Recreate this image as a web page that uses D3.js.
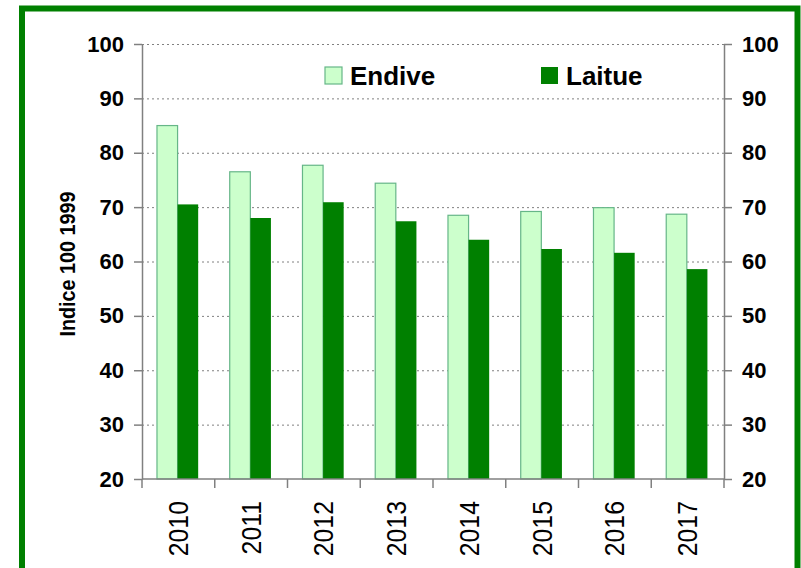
<!DOCTYPE html>
<html>
<head>
<meta charset="utf-8">
<script src="https://cdn.jsdelivr.net/npm/d3@7"></script>
<style>
  body { margin: 0; background: #fff; }
  svg { display: block; font-family: "Liberation Sans", Arial, sans-serif; }
</style>
</head>
<body>
<div id="chart"></div>
<script>
// Data
const years = ['2010', '2011', '2012', '2013', '2014', '2015', '2016', '2017'];
const endive = [85, 76.5, 77.7, 74.4, 68.5, 69.2, 69.9, 68.7];
const laitue = [70.5, 68, 70.9, 67.4, 64, 62.3, 61.6, 58.6];
const seriesNames = ['Endive', 'Laitue'];
const yTicks = [20, 30, 40, 50, 60, 70, 80, 90, 100];

const width = 801, height = 568;
const margin = { top: 44, right: 77, bottom: 89, left: 142 };
const innerW = width - margin.left - margin.right;
const innerH = height - margin.top - margin.bottom;

const svg = d3.select('#chart').append('svg')
  .attr('width', width)
  .attr('height', height);

// green frame
svg.append('rect')
  .attr('x', 22).attr('y', 8.5)
  .attr('width', 775.5).attr('height', 620)
  .attr('fill', 'none')
  .attr('stroke', '#008000')
  .attr('stroke-width', 6);

const g = svg.append('g').attr('transform', `translate(${margin.left},${margin.top})`);

const x = d3.scaleBand().domain(years).range([0, innerW]);
const y = d3.scaleLinear().domain([20, 100]).range([innerH, 0]);
const barW = 20.6;
const groupOffset = (x.bandwidth() - 2 * barW) / 2 - 0.8;

// dotted grid
g.append('g')
  .selectAll('line')
  .data(yTicks.filter(d => d > 20))
  .join('line')
  .attr('x1', 0).attr('x2', innerW)
  .attr('y1', d => y(d) + 0.5).attr('y2', d => y(d) + 0.5)
  .attr('stroke', '#808080')
  .attr('stroke-width', 1)
  .attr('stroke-dasharray', '2,3');

// bars
const groups = g.append('g')
  .selectAll('g')
  .data(years)
  .join('g')
  .attr('transform', d => `translate(${x(d) + groupOffset},0)`);

groups.append('rect')
  .attr('x', 0)
  .attr('width', barW)
  .attr('y', (d, i) => y(endive[i]))
  .attr('height', (d, i) => innerH - y(endive[i]))
  .attr('fill', '#ccffcc')
  .attr('stroke', '#66b688')
  .attr('stroke-width', 1.2);

groups.append('rect')
  .attr('x', barW)
  .attr('width', barW)
  .attr('y', (d, i) => y(laitue[i]))
  .attr('height', (d, i) => innerH - y(laitue[i]))
  .attr('fill', '#008000');

// axes
const axisColor = '#808080';
const styleAxis = sel => {
  sel.select('.domain').attr('stroke', axisColor).attr('stroke-width', 1.5);
  sel.selectAll('.tick line').attr('stroke', axisColor).attr('stroke-width', 1.5);
};

const left = g.append('g')
  .call(d3.axisLeft(y).tickValues(yTicks).tickSize(8).tickPadding(10).tickSizeOuter(0))
  .call(styleAxis);
left.selectAll('.tick text')
  .attr('font-size', 22).attr('font-weight', 'bold').attr('fill', '#000')
  .attr('font-family', '"Liberation Sans", Arial, sans-serif');

const right = g.append('g')
  .attr('transform', `translate(${innerW},0)`)
  .call(d3.axisRight(y).tickValues(yTicks).tickSize(8).tickPadding(10).tickSizeOuter(0))
  .call(styleAxis);
right.selectAll('.tick text')
  .attr('font-size', 22).attr('font-weight', 'bold').attr('fill', '#000')
  .attr('font-family', '"Liberation Sans", Arial, sans-serif');

// x axis: ticks at band edges, labels centred and rotated
const bottom = g.append('g').attr('transform', `translate(0,${innerH})`);
bottom.append('line')
  .attr('x1', 0).attr('x2', innerW)
  .attr('stroke', axisColor).attr('stroke-width', 1.5);
bottom.selectAll('.edge')
  .data(years.concat(['end']))
  .join('line')
  .attr('class', 'edge')
  .attr('x1', d => d === 'end' ? innerW : x(d))
  .attr('x2', d => d === 'end' ? innerW : x(d))
  .attr('y1', 0).attr('y2', 9)
  .attr('stroke', axisColor).attr('stroke-width', 1.5);
bottom.selectAll('.lab')
  .data(years)
  .join('text')
  .attr('class', 'lab')
  .attr('transform', d => `translate(${x(d) + x.bandwidth() / 2 + 9.5},22) rotate(-90) scale(0.92,1)`)
  .attr('text-anchor', 'end')
  .attr('font-size', 27)
  .attr('fill', '#000')
  .text(d => d);

// y title
svg.append('text')
  .attr('transform', 'translate(75,264) rotate(-90) scale(0.9,1)')
  .attr('text-anchor', 'middle')
  .attr('font-size', 22)
  .attr('font-weight', 'bold')
  .text('Indice 100 1999');

// legend
const legendPos = [325, 541];
const legend = svg.append('g')
  .selectAll('g')
  .data(seriesNames)
  .join('g')
  .attr('transform', (d, i) => `translate(${legendPos[i]},67)`);
legend.append('rect')
  .attr('width', 17).attr('height', 17)
  .attr('fill', (d, i) => i === 0 ? '#ccffcc' : '#008000')
  .attr('stroke', (d, i) => i === 0 ? '#66b688' : 'none')
  .attr('stroke-width', 1.2);
legend.append('text')
  .attr('x', 25).attr('y', 17.5)
  .attr('font-size', 26)
  .attr('font-weight', 'bold')
  .text(d => d);
</script>
</body>
</html>
